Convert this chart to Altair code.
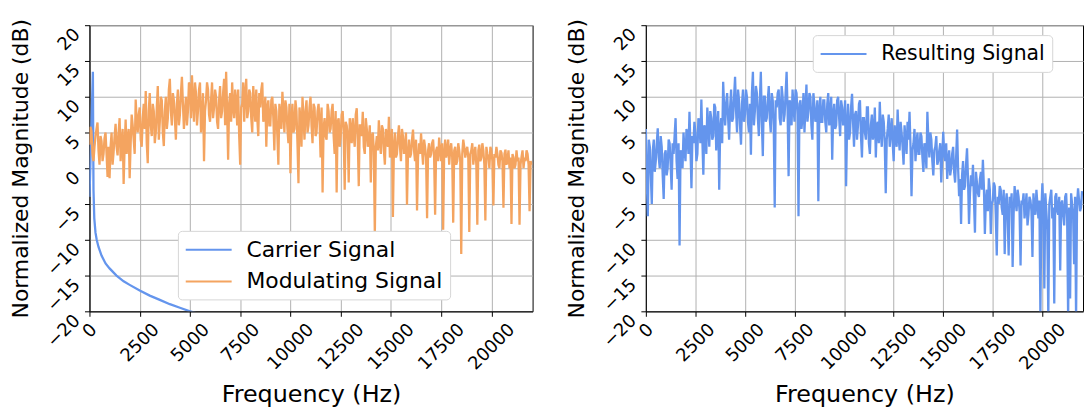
import altair as alt
import pandas as pd

# ---------------- data ----------------
freqs = list(range(0, 22001, 100))
mid_freqs = list(range(50, 22000, 100))

modulating_db = [
    3.3, 5.2, 1.0, 4.5, 6.4, 0.5, 3.8, 2.0, 5.0, -1.2,
    -1.4, 5.0, 2.2, 6.2, 1.8, 7.0, 3.5, -2.2, 6.8, 4.0,
    -1.4, 7.5, 4.0, 9.6, 5.0, 8.5, 3.0, 9.0, 10.8, 0.7,
    10.5, 4.5, 8.0, 5.0, 11.5, 6.5, 9.5, 3.1, 10.0, 7.0,
    12.5, 6.0, 9.5, 4.0, 11.0, 7.5, 12.8, 5.5, 10.0, 8.0,
    11.5, 13.0, 6.5, 10.5, 8.0, 12.0, 7.0, 1.0, 9.5, 11.0,
    6.5, 12.0, 8.5, 10.0, 5.5, 11.5, 8.0, 12.5, 13.5, 1.2,
    10.5, 12.0, 7.0, 9.5, 11.0, 0.5, 9.0, 6.5, 12.5, 8.0,
    10.5, 5.0, 9.0, 11.0, 4.5, 8.5, 12.0, 7.5, 3.0, 9.5,
    6.0, 10.0, 2.5, 8.0, 0.5, 7.5, 10.7, 5.0, 8.5, 3.5,
    -0.7, 9.0, 5.5, 8.0, -2.1, 7.0, 10.0, 4.0, 9.5, 6.0,
    10.0, 3.5, 8.5, 5.0, 9.0, 1.5, -3.4, 7.0, 4.0, 8.0,
    5.5, 9.0, 2.0, -3.4, 7.0, 4.5, 8.0, -3.0, 6.0, -2.0,
    5.5, 7.0, 3.0, 8.4, -2.5, 6.0, 7.9, 2.0, 5.5, 4.0,
    -2.0, 5.0, -9.4, 4.5, 6.7, 2.0, 5.5, 0.5, 4.5, 7.2,
    3.0, -6.8, 5.0, 2.0, 6.0, 1.0, 4.5, 3.0, -5.1, 4.0,
    2.0, 5.4, 1.0, -5.9, 3.5, 4.9, 0.5, 3.0, -7.0, 3.5,
    2.0, 4.0, -6.5, 3.0, 4.3, 1.0, -8.6, 4.0, 2.5, 0.5,
    3.5, -7.6, 3.0, 1.0, 2.5, -12.0, 4.0, 1.5, 3.0, -8.9,
    2.5, 0.5, 3.0, -7.9, 3.3, 1.5, 2.5, -7.3, 2.0, 0.0,
    2.5, -5.2, 1.5, 2.0, 0.0, 2.2, -5.5, 2.6, 1.0, 0.0,
    -7.8, 1.5, 0.5, 1.0, -7.9, 1.6, 0.0, 1.0, 2.0, -6.0,
    0.5,
]

modulating_db_mid = [
    5.8, 2.0, 3.0, 5.5, 2.5, 4.5, 1.0, 4.2, 2.0, 3.0,
    3.0, 0.5, 4.5, 3.0, 5.0, 1.0, 5.5, 3.0, 2.0, 5.5,
    3.5, 6.0, 2.0, 6.5, 7.5, 4.0, 7.0, 5.5, 3.5, 8.0,
    6.0, 9.0, 3.5, 8.5, 4.0, 10.0, 5.0, 8.0, 5.5, 11.0,
    8.0, 10.5, 7.0, 9.0, 6.0, 10.5, 9.0, 8.0, 6.0, 12.0,
    7.0, 9.5, 12.0, 6.0, 11.0, 5.0, 10.5, 8.0, 12.0, 7.5,
    9.5, 7.0, 11.0, 6.5, 9.5, 7.0, 10.5, 6.0, 8.0, 9.0,
    6.5, 8.5, 11.0, 6.0, 4.5, 8.5, 12.0, 10.5, 7.0, 11.0,
    7.0, 11.5, 6.5, 7.0, 10.5, 11.0, 6.5, 10.0, 8.5, 6.0,
    9.5, 7.0, 9.0, 4.5, 9.0, 5.5, 8.0, 9.5, 5.5, 9.0,
    7.0, 5.0, 9.5, 3.5, 8.5, 3.0, 7.0, 8.0, 5.0, 8.5,
    6.0, 9.0, 4.5, 8.0, 6.5, 8.5, 5.5, 4.5, 9.0, 5.0,
    8.0, 4.5, 8.0, 6.5, 3.0, 7.5, 5.0, 6.5, 4.5, 7.0,
    3.5, 4.5, 7.5, 4.0, 6.0, 4.5, 3.0, 7.0, 3.0, 6.0,
    4.5, 2.5, 3.0, 2.5, 3.5, 6.0, 2.5, 5.5, 3.0, 1.5,
    5.5, 3.0, 1.5, 4.5, 3.0, 5.5, 2.0, 5.0, 2.0, 1.5,
    4.0, 2.5, 4.0, 1.5, 2.0, 2.5, 4.0, 1.5, 2.5, 1.5,
    3.5, 1.5, 2.5, 1.0, 2.5, 3.5, 2.0, 1.5, 4.0, 2.5,
    1.5, 2.5, 0.5, 3.5, 1.0, 2.0, 3.0, 2.5, 1.5, 2.0,
    3.5, 2.0, 0.5, 2.5, 1.0, 3.5, 0.5, 3.0, 1.5, 3.0,
    1.0, 2.0, 3.0, 0.5, 2.5, 1.0, 2.0, 0.5, 2.5, 1.5,
    2.0, 0.0, 2.5, 1.5, 0.5, 2.5, 1.5, 2.5, 0.5, 1.0,
]

resulting_db = [
    5.5, -6.7, 3.0, -5.0, 4.0, 1.0, 5.6, 0.0, 3.0, -4.3,
    2.5, 0.0, 3.5, -3.0, 2.0, 7.0, -1.5, -10.8, 2.0, 5.0,
    1.0, 4.5, 7.9, -2.8, 3.5, 5.0, 2.0, 6.5, 9.6, -0.9,
    5.5, 8.5, 3.0, 7.0, 4.5, 8.5, 6.0, -3.0, 7.0, 12.1,
    6.0, 10.5, 4.0, 11.0, 7.0, 12.8, 5.0, 9.5, 3.3, 11.0,
    7.5, 10.0, 5.0, 1.9, 13.5, 8.0, 10.5, 4.5, 13.5, 1.7,
    10.0, 7.0, 11.5, 5.0, 9.5, -5.5, 8.5, 11.0, 6.0, 10.0,
    7.5, 13.5, -1.1, 9.0, 11.0, 6.5, 10.5, -6.7, 9.5, 7.0,
    5.0, 11.7, 8.0, 10.0, 4.0, 9.0, 7.0, -4.6, 10.0, 6.5,
    9.5, 5.0, 10.5, 7.5, 1.2, 9.0, 6.0, 10.0, 4.5, 8.5,
    7.0, -2.5, 9.0, 5.0, 10.4, 3.0, 8.0, 6.0, 9.5, 1.5,
    7.0, 4.0, 8.5, 2.0, 7.5, 5.0, 1.5, 6.5, 9.3, 3.0,
    6.5, -3.5, 5.5, 3.0, 7.0, 1.0, 4.5, 8.2, 2.5, 5.0,
    0.5, 4.0, 6.5, 7.9, -3.9, 3.5, 1.0, 5.0, 2.0, 4.5,
    -0.5, 3.0, 7.9, 1.5, 4.0, -1.0, 3.0, 0.5, 2.5, -2.0,
    5.1, 1.0, -1.5, 2.5, 0.0, 3.0, -2.0, 5.4, -3.9, -7.8,
    1.0, -2.5, 2.8, -7.8, -1.0, 0.5, -9.0, -2.0, -4.0, -0.5,
    1.2, -9.2, -3.0, -1.4, -9.2, -4.5, -2.5, -12.2, -5.0, -3.0,
    -6.5, -12.0, -3.5, -12.2, -5.5, -13.8, -2.5, -6.0, -4.0, -13.6,
    -5.0, -7.0, -3.5, -6.5, -4.5, -12.4, -5.5, -3.0, -7.0, -20.5,
    -2.1, -16.8, -6.0, -21.0, -4.0, -7.0, -18.9, -3.5, -6.5, -14.3,
    -4.5, -8.0, -3.5, -21.0, -18.2, -5.0, -13.4, -21.0, -2.8, -6.0,
    -3.2,
]

resulting_db_mid = [
    -2.0, 4.0, -1.0, 2.5, -0.5, 3.5, 1.5, 4.5, -1.0, 2.0,
    -1.0, 4.0, 0.5, 3.5, 4.5, 1.0, 3.5, 2.5, 0.0, 2.5,
    5.5, 2.0, 3.0, 4.5, 6.5, 1.0, 7.0, 3.5, 4.0, 6.0,
    2.0, 6.0, 8.0, 4.0, 9.0, 2.5, 8.0, 5.5, 3.5, 8.5,
    9.0, 7.0, 8.5, 6.5, 10.0, 8.0, 11.0, 6.0, 9.0, 6.5,
    11.0, 6.5, 9.0, 10.5, 6.0, 11.5, 7.0, 9.5, 6.5, 10.0,
    6.5, 9.5, 7.0, 10.5, 6.0, 9.5, 10.5, 7.0, 11.5, 6.5,
    10.5, 8.0, 9.5, 6.0, 8.5, 11.0, 7.5, 9.0, 5.5, 10.5,
    8.5, 6.5, 10.5, 6.0, 10.5, 6.5, 9.5, 8.0, 6.5, 9.5,
    6.5, 9.0, 6.0, 10.0, 7.5, 5.5, 9.5, 7.0, 9.5, 6.0,
    9.5, 6.0, 4.0, 8.5, 6.5, 7.5, 4.0, 9.0, 4.5, 7.0,
    5.0, 8.5, 3.5, 6.0, 4.0, 8.5, 6.0, 3.5, 5.0, 7.5,
    3.5, 4.0, 7.5, 5.0, 3.5, 6.0, 3.0, 4.5, 6.5, 3.0,
    6.0, 2.0, 4.0, 3.0, 2.5, 5.5, 3.5, 2.0, 5.0, 1.5,
    3.5, 0.0, 4.0, 5.0, 1.0, 2.5, 4.5, 1.0, 3.5, 1.5,
    2.0, 3.5, 1.0, -1.0, 2.0, -0.5, 1.5, 0.0, -1.5, -1.0,
    -3.0, 0.5, -1.5, -3.5, -2.5, -4.5, -0.5, -3.5, -1.5, -3.0,
    -2.5, -4.5, -6.0, -3.0, -5.0, -2.0, -6.5, -4.0, -2.5, -5.5,
    -3.0, -5.0, -7.0, -4.0, -3.5, -6.5, -4.5, -3.0, -6.0, -4.5,
    -3.5, -5.5, -8.0, -4.0, -6.0, -3.5, -6.5, -5.0, -4.5, -6.0,
    -5.5, -3.5, -8.5, -5.0, -3.0, -5.5, -4.0, -6.0, -4.0, -5.0,
    -6.5, -4.0, -7.0, -5.5, -3.5, -6.5, -4.0, -5.0, -4.5, -5.5,
]

carrier_freq = [0, 170, 185, 200, 240, 300, 360, 450, 600, 800, 1000, 1345,
                1700, 2000, 2500, 3000, 3500, 4000, 4500, 5000, 5500]
carrier_db = [-4.0, 13.5, 5.0, -3.0, -7.0, -9.0, -10.0, -11.0, -12.2, -13.3, -14.0,
              -15.0, -15.8, -16.3, -17.1, -17.8, -18.4, -19.0, -19.5, -20.0, -20.4]

left_labels = ["Carrier Signal", "Modulating Signal"]
left_colors = ["#6495ED", "#F4A460"]
right_labels = ["Resulting Signal"]
right_colors = ["#6495ED"]

x_ticks = [0, 2500, 5000, 7500, 10000, 12500, 15000, 17500, 20000]
y_ticks = [-20, -15, -10, -5, 0, 5, 10, 15, 20]

carrier_df = pd.DataFrame({"freq": carrier_freq, "db": carrier_db, "series": left_labels[0]})
mod_df = pd.concat([
    pd.DataFrame({"freq": freqs, "db": modulating_db}),
    pd.DataFrame({"freq": mid_freqs, "db": modulating_db_mid}),
]).sort_values("freq").assign(series=left_labels[1])
res_df = pd.concat([
    pd.DataFrame({"freq": freqs, "db": resulting_db}),
    pd.DataFrame({"freq": mid_freqs, "db": resulting_db_mid}),
]).sort_values("freq").assign(series=right_labels[0])

FONT = "DejaVu Sans"

x_axis = alt.Axis(
    values=x_ticks, format="d", title="Frequency (Hz)",
    labelAngle=-45, labelAlign="right", labelBaseline="top",
    labelOffset={"condition": [{"test": "datum.value >= 10000", "value": 14},
                               {"test": "datum.value >= 2500", "value": 10}],
                 "value": -2},
    labelOverlap=False, labelBound=False, labelFlush=False,
    labelPadding=4, titlePadding=10, titleFontSize=24,
)
y_axis = alt.Axis(
    values=y_ticks, title="Normalized Magnitude (dB)",
    labelAngle=-45, labelAlign="right", labelBaseline="top",
    labelOverlap=False, labelBound=False, labelFlush=False,
    labelPadding=14, titlePadding=12, titleFontSize=22,
)

x_enc = alt.X("freq:Q", scale=alt.Scale(domain=[0, 22050], nice=False, zero=False), axis=x_axis)
y_enc = alt.Y("db:Q", scale=alt.Scale(domain=[-20, 20], nice=False, zero=False), axis=y_axis)


def legend(x, y, fs):
    return alt.Legend(
        orient="none", legendX=x, legendY=y, title=None,
        symbolType="M-2.1,0H2.1", symbolSize=484, symbolStrokeWidth=2,
        symbolOffset=12,
        labelFontSize=fs, labelFont=FONT, labelColor="black", labelOffset=26,
        labelLimit=0,
        strokeColor="#d6d6d6", fillColor="white", padding=7, cornerRadius=4,
        rowPadding=9,
    )


left_color = alt.Color("series:N", scale=alt.Scale(domain=left_labels, range=left_colors),
                       legend=legend(89, 207, 22))
right_color = alt.Color("series:N", scale=alt.Scale(domain=right_labels, range=right_colors),
                        legend=legend(168, 10, 20.5))

carrier = alt.Chart(carrier_df).mark_line(strokeWidth=2.3, clip=True).encode(
    x=x_enc, y=y_enc, color=left_color)
modul = alt.Chart(mod_df).mark_line(strokeWidth=2.3, clip=True).encode(
    x=x_enc, y=y_enc, color=left_color)
left = alt.layer(carrier, modul).properties(width=446, height=288)

right = alt.Chart(res_df).mark_line(strokeWidth=2.3, clip=True).encode(
    x=x_enc, y=y_enc, color=right_color).properties(width=440, height=288)

chart = alt.hconcat(left, right, spacing=31).resolve_scale(color="independent").resolve_legend(
    color="independent"
).configure(
    padding={"left": 0, "top": 8, "right": 0, "bottom": 0}, font=FONT
).configure_view(
    stroke="black", strokeWidth=1
).configure_axis(
    domainColor="black", domainWidth=1, tickColor="black", tickWidth=1, tickSize=5,
    gridColor="#b0b0b0", gridWidth=1, labelColor="black", titleColor="black",
    labelFont=FONT, titleFont=FONT, labelFontSize=18,
    titleFontWeight="normal",
)

chart.save("out.html", embed_options={"renderer": "svg", "actions": False})
